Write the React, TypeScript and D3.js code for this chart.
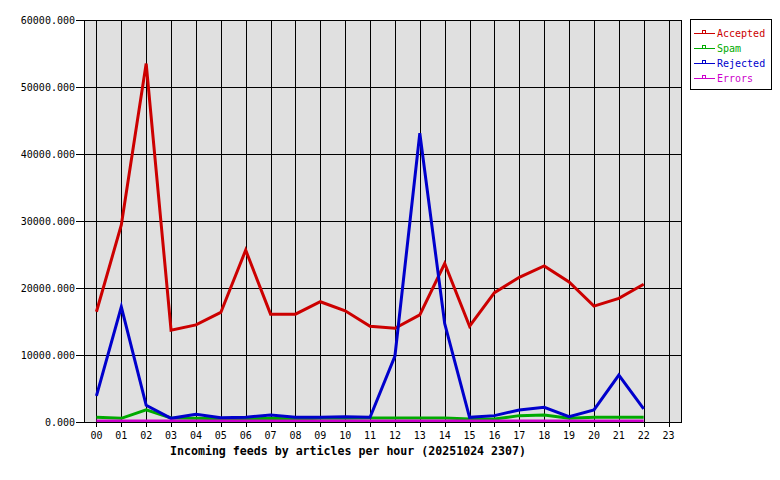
import React from "react";
import * as d3 from "d3";

const hours = ["00","01","02","03","04","05","06","07","08","09","10","11","12","13","14","15","16","17","18","19","20","21","22","23"];
const accepted = [16450, 29400, 53500, 13700, 14500, 16350, 25650, 16100, 16100, 17950, 16600, 14300, 14000, 16000, 23650, 14300, 19300, 21600, 23300, 20900, 17300, 18450, 20550];
const spam = [700, 550, 1800, 600, 550, 500, 450, 550, 450, 550, 550, 600, 600, 600, 600, 450, 450, 950, 1050, 550, 700, 700, 700];
const rejected = [3900, 17200, 2500, 550, 1150, 650, 700, 1050, 700, 700, 800, 700, 9850, 43100, 14700, 700, 950, 1800, 2200, 800, 1800, 7000, 1950];
const errors = [150, 150, 150, 150, 150, 150, 150, 150, 150, 150, 150, 150, 150, 150, 150, 150, 150, 150, 150, 150, 150, 150, 150];
const yTicks = [0, 10000, 20000, 30000, 40000, 50000, 60000];
const seriesNames = ["Accepted", "Spam", "Rejected", "Errors"];
const seriesColors = ["#cc0000", "#00aa00", "#0000cc", "#cc00cc"];
const title = "Incoming feeds by articles per hour (20251024 2307)";

export default function App() {
  const W = 780, H = 480;
  const left = 84, right = 681, top = 20, bottom = 422;
  const x = d3.scaleBand<string>().domain(hours).range([left, right]).paddingInner(0).paddingOuter(0);
  const cx = (h: string) => (x(h) as number) + x.bandwidth() / 2;
  const y = d3.scaleLinear().domain([0, 60000]).range([bottom, top]);
  const series = [accepted, spam, rejected, errors];
  const line = d3.line<number>().x((_, i) => cx(hours[i])).y((v) => y(v));
  const mono = "'DejaVu Sans Mono', 'Liberation Mono', monospace";
  return (
    <svg width={W} height={H} style={{ position: "absolute", left: 0, top: 0, background: "#fff" }}>
      <rect x={left} y={top} width={right - left} height={bottom - top} fill="#e0e0e0" />
      <g shapeRendering="crispEdges" stroke="#000" strokeWidth={1}>
        {yTicks.map((t) => (
          <line key={"hy" + t} x1={left - 8} x2={right} y1={Math.round(y(t)) + 0.5} y2={Math.round(y(t)) + 0.5} />
        ))}
        {hours.map((h) => (
          <line key={"vx" + h} x1={Math.round(cx(h)) + 0.5} x2={Math.round(cx(h)) + 0.5} y1={top} y2={bottom + 5} />
        ))}
        <line x1={left + 0.5} x2={left + 0.5} y1={top} y2={bottom + 1} />
        <line x1={right + 0.5} x2={right + 0.5} y1={top} y2={bottom + 1} />
      </g>
      {series.map((s, k) => (
        <path key={"s" + k} d={line(s) as string} fill="none" stroke={seriesColors[k]} strokeWidth={3} strokeLinejoin="miter" />
      ))}
      <line x1={left} x2={right + 1} y1={bottom + 0.5} y2={bottom + 0.5} stroke="#000" strokeWidth={1} shapeRendering="crispEdges" />
      {yTicks.map((t) => (
        <text key={"ly" + t} x={left - 9} y={y(t)} dy="0.35em" textAnchor="end" fontFamily={mono} fontSize={10} fill="#000">
          {t.toFixed(3)}
        </text>
      ))}
      {hours.map((h) => (
        <text key={"lx" + h} x={cx(h)} y={435} dy="0.35em" textAnchor="middle" fontFamily={mono} fontSize={10} fill="#000">
          {h}
        </text>
      ))}
      <text x={170} y={451} dy="0.35em" fontFamily={mono} fontSize={11.6} fontWeight="bold" fill="#000">
        {title}
      </text>
      <rect x={690.5} y={19.5} width={81} height={70} fill="#fff" stroke="#000" strokeWidth={1} shapeRendering="crispEdges" />
      {seriesNames.map((n, k) => {
        const ly = 33 + k * 15;
        return (
          <g key={"lg" + n}>
            <line x1={694} x2={715} y1={ly + 0.5} y2={ly + 0.5} stroke={seriesColors[k]} strokeWidth={1} shapeRendering="crispEdges" />
            <rect x={702.5} y={ly - 2.5} width={3} height={3} fill="none" stroke={seriesColors[k]} strokeWidth={1} shapeRendering="crispEdges" />
            <text x={717} y={ly} dy="0.35em" fontFamily={mono} fontSize={10} fill={seriesColors[k]}>
              {n}
            </text>
          </g>
        );
      })}
    </svg>
  );
}
